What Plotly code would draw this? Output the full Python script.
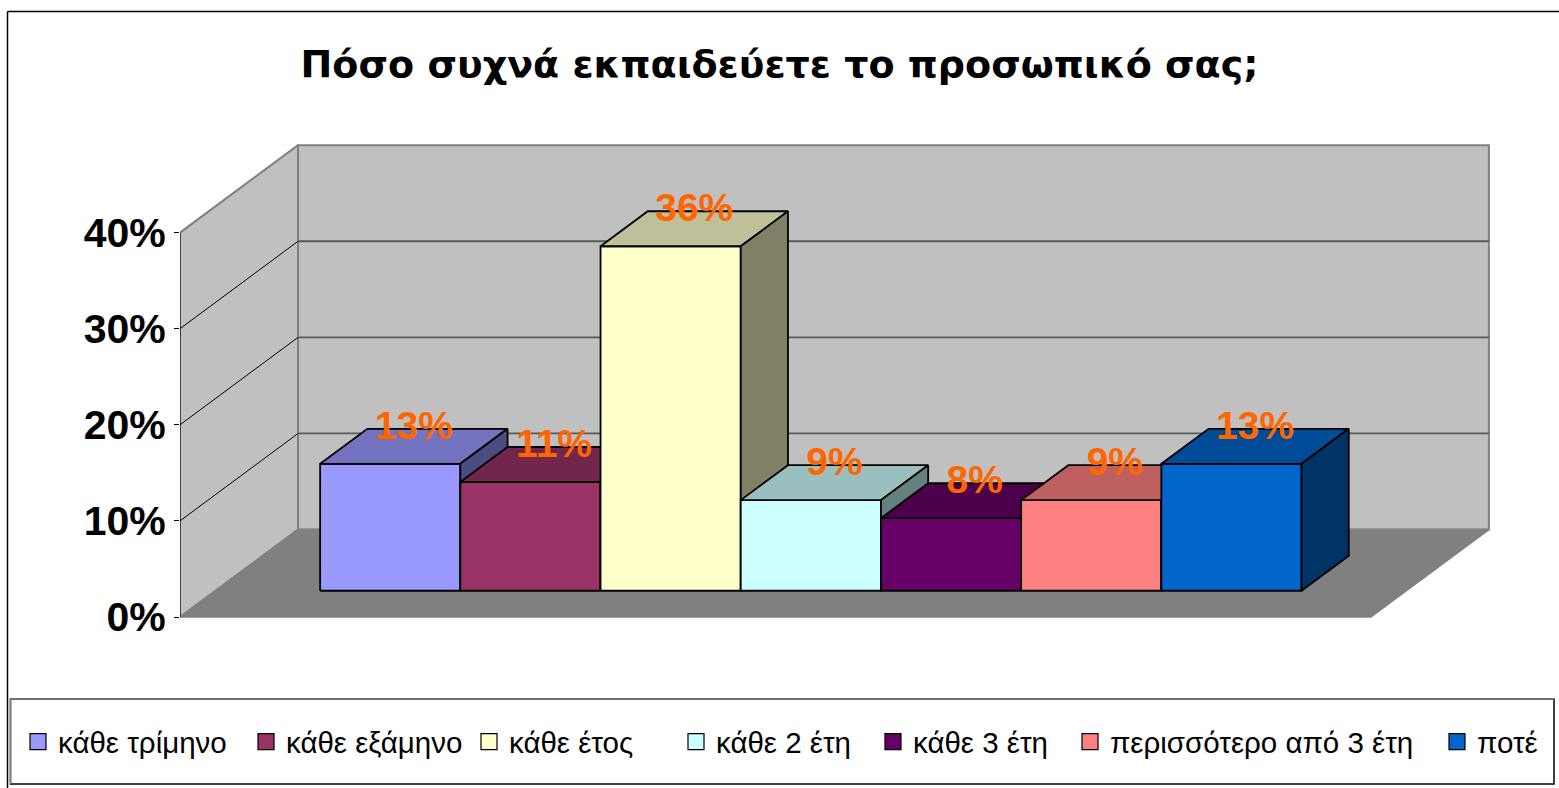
import plotly.graph_objects as go

# ---------------- data ----------------
categories = ["κάθε τρίμηνο", "κάθε εξάμηνο", "κάθε έτος", "κάθε 2 έτη",
              "κάθε 3 έτη", "περισσότερο από 3 έτη", "ποτέ"]
values = [13.21, 11.32, 35.85, 9.43, 7.55, 9.43, 13.21]   # percent
colors = ["#9999FF", "#993366", "#FFFFCC", "#CCFFFF", "#660066", "#FF8080", "#0066CC"]
y_ticks = [0, 10, 20, 30, 40]
y_tick_labels = ["0%", "10%", "20%", "30%", "40%"]
title_text = "Πόσο συχνά εκπαιδεύετε το προσωπικό σας;"

# ---------------- layout / 3D projection settings ----------------
DX, DY = 0.842, 9.1          # oblique offset of full depth (x units, % units)
Z_FRONT, Z_BACK = 0.3, 0.7   # bar depth span
GAP = 0.747                  # floor margin either side of bars (category units)
AXIS_MAX = y_ticks[-1]
legend_item_px = [18, 246, 469, 676, 873, 1070, 1437]   # left pixel of each legend entry

W, H = 1559, 788
PL, PR, PT, PB = 180, 1500, 140, 625     # plot area in pixels
PX_PER_X = 140.2
PX_PER_Y = 9.61
X0 = -GAP
X_RANGE = [X0, X0 + (PR - PL) / PX_PER_X]
Y_RANGE = [-(PB - 617) / PX_PER_Y, (617 - PT) / PX_PER_Y]

def P(x, y, z):
    return x + z * DX, y + z * DY

def shade(hexc, f):
    h = hexc.lstrip("#")
    r, g, b = (int(h[i:i + 2], 16) for i in (0, 2, 4))
    return "rgb(%d,%d,%d)" % (round(r * f), round(g * f), round(b * f))

fig = go.Figure()

def poly(pts, fill, lc, lw):
    xs = [p[0] for p in pts] + [pts[0][0]]
    ys = [p[1] for p in pts] + [pts[0][1]]
    fig.add_trace(go.Scatter(x=xs, y=ys, fill="toself", fillcolor=fill, mode="lines",
                             line=dict(color=lc, width=lw), hoverinfo="skip",
                             showlegend=False))

def seg(p1, p2, lc, lw):
    fig.add_trace(go.Scatter(x=[p1[0], p2[0]], y=[p1[1], p2[1]], mode="lines",
                             line=dict(color=lc, width=lw), hoverinfo="skip",
                             showlegend=False))

n = len(values)
xL, xR = X0, n + GAP

# walls and floor
poly([P(xL, 0, 1), P(xR, 0, 1), P(xR, AXIS_MAX, 1), P(xL, AXIS_MAX, 1)], "#C0C0C0", "#808080", 2)
poly([P(xL, 0, 0), P(xL, 0, 1), P(xL, AXIS_MAX, 1), P(xL, AXIS_MAX, 0)], "#C0C0C0", "#808080", 2)
poly([P(xL, 0, 0), P(xR, 0, 0), P(xR, 0, 1), P(xL, 0, 1)], "#808080", "#808080", 1.5)
for t in y_ticks[1:-1]:
    seg(P(xL, t, 1), P(xR, t, 1), "#5a5a5a", 1.8)
    seg(P(xL, t, 0), P(xL, t, 1), "#000000", 1)
# front axis line
seg(P(xL, 0, 0), P(xL, AXIS_MAX, 0), "#000000", 1)

# bars (painter's order left to right)
for i, (v, c) in enumerate(zip(values, colors)):
    a, b = i, i + 1
    poly([P(a, 0, Z_FRONT), P(b, 0, Z_FRONT), P(b, v, Z_FRONT), P(a, v, Z_FRONT)], c, "#000000", 1.8)
    poly([P(a, v, Z_FRONT), P(b, v, Z_FRONT), P(b, v, Z_BACK), P(a, v, Z_BACK)], shade(c, 0.75), "#000000", 1.8)
    poly([P(b, 0, Z_FRONT), P(b, v, Z_FRONT), P(b, v, Z_BACK), P(b, 0, Z_BACK)], shade(c, 0.5), "#000000", 1.8)

# data labels
zmid = (Z_FRONT + Z_BACK) / 2
lx = [P(i + 0.5, v, zmid)[0] for i, v in enumerate(values)]
ly = [P(i + 0.5, v, Z_BACK)[1] for i, v in enumerate(values)]
fig.add_trace(go.Scatter(x=lx, y=ly, mode="text", text=["%d%%" % round(v) for v in values],
                         textposition="middle center",
                         textfont=dict(family="Liberation Sans, Arial", size=39,
                                       color="#FF6600", weight="bold"),
                         hoverinfo="skip", showlegend=False, cliponaxis=False))

# legend entries, one legend each so they sit in a single spaced row
legend_layouts = {}
for k, (name, c, lpx) in enumerate(zip(categories, colors, legend_item_px)):
    lname = "legend" if k == 0 else "legend%d" % (k + 1)
    fig.add_trace(go.Scatter(x=[None], y=[None], mode="markers", name=name, legend=lname,
                             marker=dict(symbol="square", size=16, color=c,
                                         line=dict(color="#000000", width=1.2))))
    legend_layouts[lname] = dict(
        orientation="h", xref="container", yref="container",
        x=lpx / W, xanchor="left", y=1 - 742 / H, yanchor="middle",
        font=dict(family="Liberation Sans, Arial", size=29.5, color="#000000"),
        bgcolor="rgba(0,0,0,0)", borderwidth=0, itemclick=False, itemdoubleclick=False)

def px_x(px):
    return (px - PL) / (PR - PL)

def px_y(py):
    return (PB - py) / (PB - PT)

shapes = [
    # outer chart border (left, top)
    dict(type="line", xref="paper", yref="paper", x0=px_x(7.5), x1=px_x(7.5),
         y0=px_y(11.5), y1=px_y(800), line=dict(color="#000000", width=1.5)),
    dict(type="line", xref="paper", yref="paper", x0=px_x(7.5), x1=px_x(1570),
         y0=px_y(11.5), y1=px_y(11.5), line=dict(color="#000000", width=1.5)),
    # legend box
    dict(type="rect", xref="paper", yref="paper", x0=px_x(10.5), x1=px_x(1554),
         y0=px_y(784), y1=px_y(699), line=dict(color="#000000", width=1.5)),
    dict(type="line", xref="paper", yref="paper", x0=px_x(10.5), x1=px_x(1554),
         y0=px_y(699), y1=px_y(699), line=dict(color="#808080", width=1.5)),
    dict(type="line", xref="paper", yref="paper", x0=px_x(10.5), x1=px_x(10.5),
         y0=px_y(699), y1=px_y(784), line=dict(color="#808080", width=1.5)),
]

fig.update_layout(
    width=W, height=H, autosize=False,
    margin=dict(l=PL, r=W - PR, t=PT, b=H - PB, autoexpand=False),
    paper_bgcolor="white", plot_bgcolor="white",
    title=dict(text=title_text, x=0.5, xanchor="center", y=1 - 64 / H, yanchor="middle",
               font=dict(family="DejaVu Sans", size=38, color="#000000", weight="bold")),
    xaxis=dict(range=X_RANGE, visible=False, fixedrange=True),
    yaxis=dict(range=Y_RANGE, tickvals=y_ticks, ticktext=y_tick_labels, ticks="outside",
               ticklen=5, tickcolor="#000000", showgrid=False, zeroline=False, showline=False,
               tickfont=dict(family="Liberation Sans, Arial", size=41, color="#000000", weight="bold"),
               fixedrange=True),
    shapes=shapes,
    showlegend=True,
    **legend_layouts,
)

fig.write_html("out.html", config={"displayModeBar": False},
               post_script="document.body.style.margin='0';document.body.style.overflow='hidden';")
